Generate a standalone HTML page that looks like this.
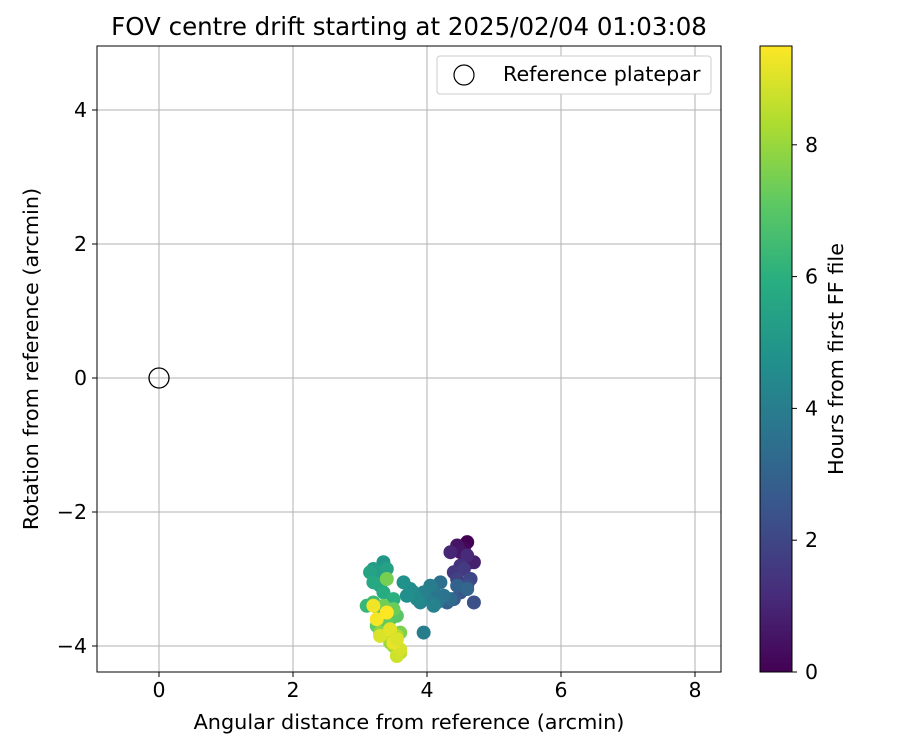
<!DOCTYPE html>
<html><head><meta charset="utf-8"><style>
body{margin:0;background:#fff;font-family:"Liberation Sans","DejaVu Sans",sans-serif;}
svg text{font-family:"DejaVu Sans","Liberation Sans",sans-serif;}
</style></head><body>
<svg id="c" width="900" height="750" xmlns="http://www.w3.org/2000/svg">
<defs><linearGradient id="vir" x1="0" y1="1" x2="0" y2="0">
<stop offset="0" stop-color="#440154"/><stop offset="0.125" stop-color="#472d7b"/><stop offset="0.25" stop-color="#3b528b"/><stop offset="0.375" stop-color="#2c728e"/><stop offset="0.5" stop-color="#21918c"/><stop offset="0.625" stop-color="#28ae80"/><stop offset="0.75" stop-color="#5ec962"/><stop offset="0.875" stop-color="#addc30"/><stop offset="1" stop-color="#fde725"/></linearGradient></defs>
<text x="409" y="35" font-size="24.5" text-anchor="middle">FOV centre drift starting at 2025/02/04 01:03:08</text>
<g id="grid"></g><g id="pts"></g>
<rect x="97" y="46" width="624" height="626" fill="none" stroke="#000" stroke-width="1"/>
<g id="ticks"></g>
<text x="409" y="729" font-size="20.8" text-anchor="middle">Angular distance from reference (arcmin)</text>
<text transform="translate(38,359) rotate(-90)" font-size="20.8" text-anchor="middle">Rotation from reference (arcmin)</text>
<g>
<rect x="437" y="56" width="274" height="38" rx="3" fill="#fff" stroke="#ccc"/>
<circle cx="464" cy="75" r="10" fill="none" stroke="#000" stroke-width="1.2"/>
<text x="503" y="81" font-size="20.7">Reference platepar</text></g>
<rect x="760" y="46" width="32" height="626" fill="url(#vir)" stroke="#000"/>
<g id="cticks"></g>
<text transform="translate(843,359) rotate(-90)" font-size="20.8" text-anchor="middle">Hours from first FF file</text>
</svg>
<script>
const xs=[4.6,4.55,4.65,4.45,4.5,4.7,4.35,4.6,4.5,4.4,4.55,4.45,4.65,4.6,4.7,4.5,4.4,4.3,4.45,4.6,4.35,4.2,4.25,4.1,4.15,4.0,4.05,3.95,4.1,3.9,3.95,3.8,3.85,3.75,3.7,3.65,3.35,3.3,3.2,3.25,3.4,3.15,3.3,3.2,3.35,3.5,3.1,3.2,3.3,3.45,3.55,3.25,3.4,3.5,3.35,3.6,3.3,3.45,3.5,3.55,3.6,3.4,3.5,3.55,3.6,3.3,3.45,3.2,3.25,3.4,3.5,3.55];
const ys=[-2.45,-2.55,-2.75,-2.5,-2.6,-2.75,-2.6,-2.65,-2.8,-2.9,-2.85,-3.0,-3.0,-3.1,-3.35,-3.2,-3.3,-3.35,-3.1,-3.15,-3.3,-3.05,-3.25,-3.2,-3.35,-3.3,-3.1,-3.2,-3.4,-3.35,-3.8,-3.2,-3.3,-3.15,-3.25,-3.05,-2.75,-2.9,-2.85,-3.0,-2.85,-2.9,-3.1,-3.05,-3.2,-3.3,-3.4,-3.35,-3.5,-3.6,-3.55,-3.7,-3.65,-3.45,-3.4,-3.8,-3.8,-3.95,-4.0,-3.85,-4.1,-3.0,-3.9,-4.15,-4.05,-3.85,-3.75,-3.4,-3.6,-3.5,-3.95,-3.9];
const hs=[0,0.2,0.3,0.5,0.6,0.8,1.0,1.1,1.3,1.5,1.6,1.8,2.0,2.2,2.3,2.5,2.7,2.9,3.0,3.1,3.3,3.5,3.6,3.7,3.8,3.9,4.0,4.1,4.2,4.3,4.0,4.4,4.5,4.6,4.7,4.8,5.0,5.1,5.2,5.3,5.4,5.5,5.6,5.7,5.8,6.0,6.3,6.5,6.7,6.8,7.0,7.1,7.2,7.3,7.4,7.6,7.8,8.0,8.2,8.3,8.5,7.5,8.7,8.8,8.9,9.0,9.1,9.3,9.4,9.5,9.2,9.0];
const xTicks=[0,2,4,6,8], yTicks=[-4,-2,0,2,4], cTicks=[0,2,4,6,8];
const X=v=>159+v*67, Y=v=>378-v*67, C=v=>672-v*65.9;
const V=["#440154","#472d7b","#3b528b","#2c728e","#21918c","#28ae80","#5ec962","#addc30","#fde725"];
function col(h){let t=Math.max(0,Math.min(1,h/9.5))*8,i=Math.min(7,Math.floor(t)),f=t-i;
const a=V[i],b=V[i+1],p=(s,k)=>parseInt(s.substr(k,2),16);
return "rgb("+[1,3,5].map(k=>Math.round(p(a,k)+(p(b,k)-p(a,k))*f)).join(",")+")";}
const NS="http://www.w3.org/2000/svg";
function mk(t,a,p){const e=document.createElementNS(NS,t);for(const k in a)e.setAttribute(k,a[k]);p.appendChild(e);return e;}
const g=document.getElementById("grid"),tk=document.getElementById("ticks"),pts=document.getElementById("pts"),ct=document.getElementById("cticks");
xTicks.forEach(v=>{const l=mk("line",{x1:X(v),x2:X(v),y1:46,y2:672,stroke:"#b0b0b0"},g);


mk("line",{x1:X(v),x2:X(v),y1:672,y2:677,stroke:"#000"},tk);
const t=mk("text",{x:X(v),y:697,"font-size":20.5,"text-anchor":"middle"},tk);t.textContent=v<0?"−"+(-v):v;

});
yTicks.forEach(v=>{const l=mk("line",{x1:97,x2:721,y1:Y(v),y2:Y(v),stroke:"#b0b0b0"},g);


mk("line",{x1:92,x2:97,y1:Y(v),y2:Y(v),stroke:"#000"},tk);
const t=mk("text",{x:87,y:Y(v)+7,"font-size":20.5,"text-anchor":"end"},tk);t.textContent=v<0?"−"+(-v):v;

});
cTicks.forEach(v=>{mk("line",{x1:792,x2:797,y1:C(v),y2:C(v),stroke:"#000"},ct);
const t=mk("text",{x:805,y:C(v)+7,"font-size":20.5},ct);t.textContent=v;

});
xs.forEach((x,i)=>{const c=mk("circle",{cx:X(x),cy:Y(ys[i]),r:7,fill:col(hs[i])},pts);

});
const r=mk("circle",{cx:X(0),cy:Y(0),r:10,fill:"none",stroke:"#000","stroke-width":1.3},pts);


</script>
</body></html>
